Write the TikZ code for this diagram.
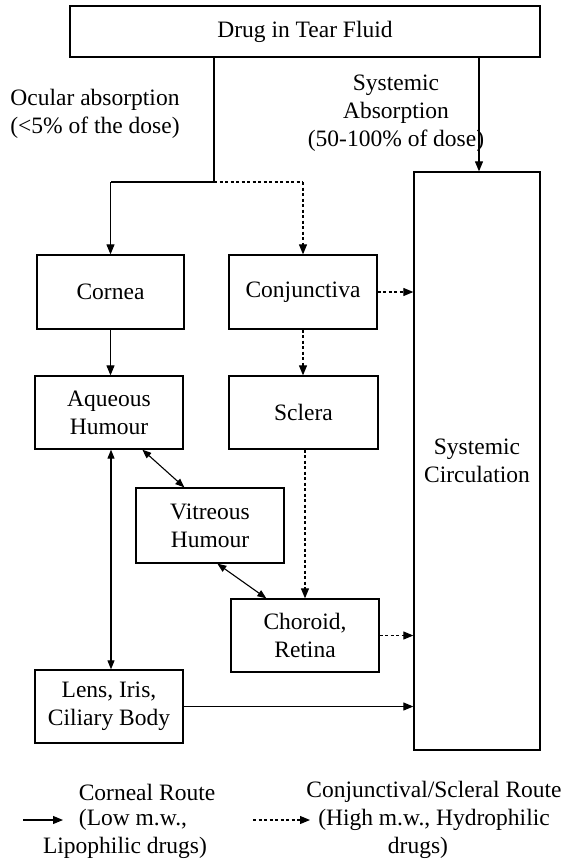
\documentclass[tikz,border=0pt]{standalone}
\usepackage{fontspec}
\setmainfont{Liberation Serif}
\usetikzlibrary{arrows.meta}
\newcommand\dgfont{\fontsize{23.5}{28}\selectfont}
\begin{document}
\begin{tikzpicture}[x=1pt,y=1pt,
  box/.style={draw, line width=1.3pt, inner sep=0pt, align=center, font=\dgfont},
  lbl/.style={inner sep=0pt, align=center, font=\dgfont},
  solidarrow/.style={line width=1.1pt, -{Triangle[length=10pt,width=8pt]}},
  dotarrow/.style={line width=1.1pt, dash pattern=on 3pt off 2.5pt, -{Triangle[length=10pt,width=8pt]}},
  bothway/.style={line width=1.1pt, {Triangle[length=9pt,width=7pt]}-{Triangle[length=9pt,width=7pt]}},
  plainline/.style={line width=1.1pt},
  dotline/.style={line width=1.1pt, dash pattern=on 3pt off 2.5pt}]
\useasboundingbox (0,0) rectangle (563,-862);

% boxes
\node[box, minimum width=470pt, minimum height=51pt] (top) at (305,-31.5) {Drug in Tear Fluid};
\node[box, minimum width=147pt, minimum height=74pt] (cornea) at (110.5,-292) {Cornea};
\node[box, minimum width=148pt, minimum height=74pt] (conj) at (303,-292) {Conjunctiva};
\node[box, minimum width=148pt, minimum height=73pt] (aq) at (109,-412.5) {Aqueous\\Humour};
\node[box, minimum width=149pt, minimum height=73pt] (scl) at (303.5,-412.5) {Sclera};
\node[box, minimum width=148pt, minimum height=75pt] (vit) at (210,-525.5) {Vitreous\\Humour};
\node[box, minimum width=148pt, minimum height=73pt] (chor) at (305,-635.5) {Choroid,\\Retina};
\node[box, minimum width=148pt, minimum height=73pt] (lens) at (109,-706.5) {Lens, Iris,\\Ciliary Body};
\node[box, minimum width=126pt, minimum height=578pt] (sys) at (477,-461) {Systemic\\Circulation};

% labels
\node[lbl] (ocular) at (95,-114) {Ocular absorption\\(<5\% of the dose)};
\node[lbl] (sysabs) at (396,-113) {Systemic\\Absorption\\(50-100\% of dose)};

% branching from top box
\coordinate (j) at (214,-182);
\coordinate (jl) at (110.5,-182);
\coordinate (jr) at (303,-182);
\coordinate (sa) at (479,-100);
\draw[plainline] (top.south -| j) -- (j);
\draw[plainline] (j) -- (jl);
\draw[dotline] (j) -- (jr);
\draw[solidarrow] (jl) -- (cornea.north);
\draw[dotarrow] (jr) -- (conj.north);
\draw[solidarrow] (top.south -| sa) -- (sys.north -| sa);

% corneal route
\draw[solidarrow] (cornea.south) -- (cornea.south |- aq.north);
\draw[bothway] ([xshift=2pt]aq.south) -- ([xshift=2pt]lens.north);
\draw[bothway] ([xshift=108pt]aq.south west) -- ([xshift=49pt]vit.north west);
\draw[bothway] ([xshift=82pt]vit.south west) -- ([xshift=36pt]chor.north west);
\draw[solidarrow] (lens.east) -- (lens.east -| sys.west);

% conjunctival route
\draw[dotarrow] (conj.south) -- (conj.south |- scl.north);
\draw[dotarrow] (conj.east) -- (conj.east -| sys.west);
\draw[dotarrow] (scl.south -| chor.north) -- (chor.north);
\draw[dotarrow] (chor.east) -- (chor.east -| sys.west);

% legend
\coordinate (la) at (23,-820);
\coordinate (lb) at (63,-820);
\coordinate (lc) at (253,-820);
\coordinate (ld) at (310,-820);
\draw[solidarrow] (la) -- (lb);
\draw[dotarrow] (lc) -- (ld);
\node[lbl] (l1) at (147,-792) {Corneal Route};
\node[lbl] (l2) at (133,-820) {(Low m.w.,};
\node[lbl] (l3) at (125,-848) {Lipophilic drugs)};
\node[lbl] (r1) at (434,-792) {Conjunctival/Scleral Route};
\node[lbl] (r2) at (434,-820) {(High m.w., Hydrophilic};
\node[lbl] (r3) at (418,-848) {drugs)};
\end{tikzpicture}
\end{document}
